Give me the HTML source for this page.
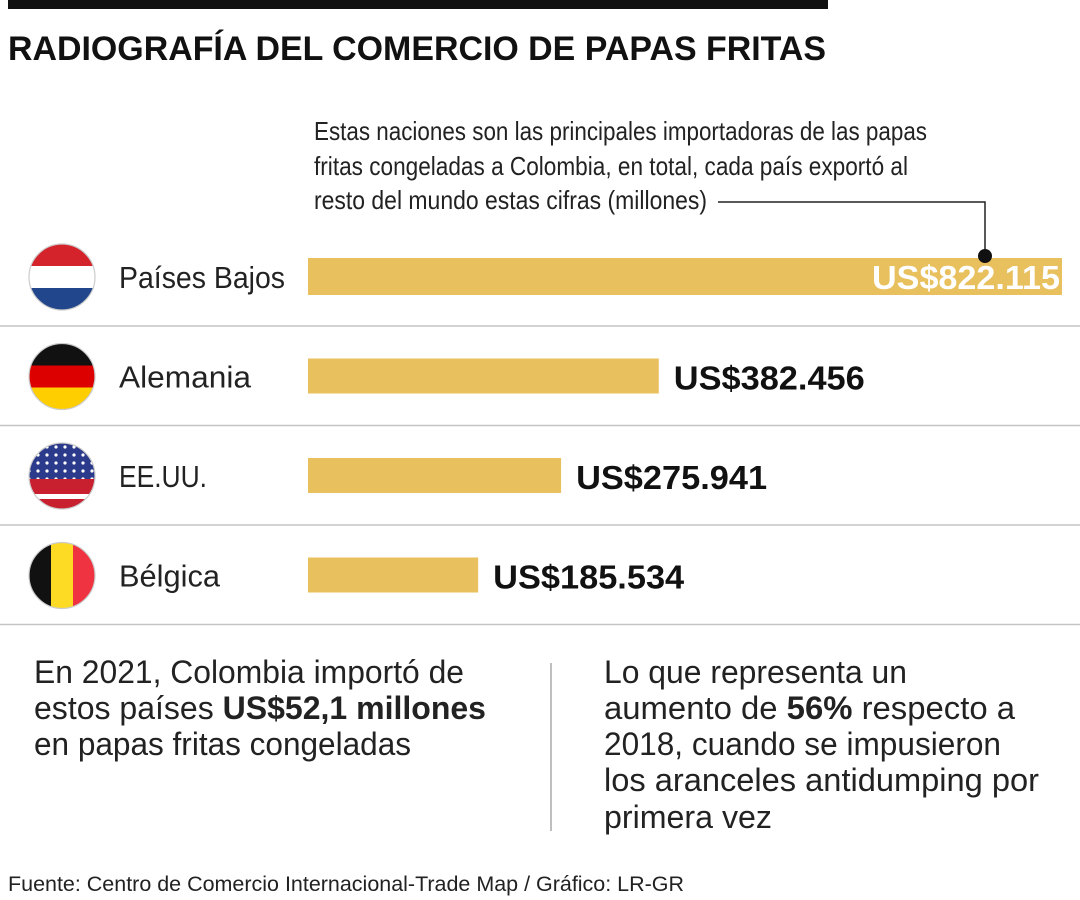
<!DOCTYPE html>
<html><head><meta charset="utf-8"><style>
body{margin:0;background:#fff}
svg{display:block}
text{font-family:"Liberation Sans","DejaVu Sans",sans-serif}
</style></head><body>
<svg id="c" width="1080" height="900" viewBox="0 0 1080 900">
<defs>
<clipPath id="cc"><circle cx="0" cy="0" r="33"/></clipPath>
<pattern id="stars" width="9" height="8" patternUnits="userSpaceOnUse"><circle cx="3" cy="3" r="1.6" fill="#fff"/></pattern>
</defs>
<rect x="8" y="0" width="820" height="9" fill="#111"/>
<text x="8" y="60" font-size="34" font-weight="bold" textLength="818" lengthAdjust="spacingAndGlyphs" fill="#111">RADIOGRAFÍA DEL COMERCIO DE PAPAS FRITAS</text>
<g font-size="26" fill="#222">
<text x="314" y="140" textLength="613" lengthAdjust="spacingAndGlyphs">Estas naciones son las principales importadoras de las papas</text>
<text x="314" y="175" textLength="594" lengthAdjust="spacingAndGlyphs">fritas congeladas a Colombia, en total, cada país exportó al</text>
<text x="314" y="209" textLength="393" lengthAdjust="spacingAndGlyphs">resto del mundo estas cifras (millones)</text>
</g>
<polyline points="718,202 985,202 985,255" fill="none" stroke="#222" stroke-width="1.5"/>
<g id="rows"></g>
<circle cx="985" cy="256" r="7" fill="#111"/>
<g font-size="32" fill="#222">
<text x="34" y="683" textLength="430" lengthAdjust="spacingAndGlyphs">En 2021, Colombia importó de</text>
<text x="34" y="719" textLength="452" lengthAdjust="spacingAndGlyphs">estos países <tspan font-weight="bold">US$52,1 millones</tspan></text>
<text x="34" y="755" textLength="377" lengthAdjust="spacingAndGlyphs">en papas fritas congeladas</text>
</g>
<line x1="551" y1="663" x2="551" y2="831" stroke="#aaa" stroke-width="1.5"/>
<g font-size="32" fill="#222">
<text x="604" y="683" textLength="303" lengthAdjust="spacingAndGlyphs">Lo que representa un</text>
<text x="604" y="719" textLength="411" lengthAdjust="spacingAndGlyphs">aumento de <tspan font-weight="bold">56%</tspan> respecto a</text>
<text x="604" y="755" textLength="397" lengthAdjust="spacingAndGlyphs">2018, cuando se impusieron</text>
<text x="604" y="791" textLength="435" lengthAdjust="spacingAndGlyphs">los aranceles antidumping por</text>
<text x="604" y="828" textLength="168" lengthAdjust="spacingAndGlyphs">primera vez</text>
</g>
<text x="8" y="891" font-size="21" fill="#222" textLength="676" lengthAdjust="spacingAndGlyphs">Fuente: Centro de Comercio Internacional-Trade Map / Gráfico: LR-GR</text>
</svg>
<script>
const countries=["Países Bajos","Alemania","EE.UU.","Bélgica"];
const values=[822.115,382.456,275.941,185.534];
const labels=["US$822.115","US$382.456","US$275.941","US$185.534"];
const flagKeys=["nl","de","us","be"];
const NS="http://www.w3.org/2000/svg";
const x0=308, scale=(1062-308)/822.115;
const nameWidths=[166,132,88,101];
function xScale(v){return x0+v*scale;}
function rowY(i){return 226+i*99.5;}
function mk(tag,attrs,parent){const e=document.createElementNS(NS,tag);for(const k in attrs)e.setAttribute(k,attrs[k]);parent.appendChild(e);return e;}
const rows=document.getElementById('rows');
const flagStripes={
 nl:[["h","#d5232b"],["h","#ffffff"],["h","#21468b"]],
 de:[["h","#111111"],["h","#dd0000"],["h","#ffce00"]],
 be:[["v","#111111"],["v","#fdda24"],["v","#ef3340"]]
};
countries.forEach((c,i)=>{
 const y=rowY(i);
 const g=mk('g',{},rows);
 
 
 const cy=y+51;
 const fg=mk('g',{transform:`translate(62,${cy})`},g);
 
 
 const inner=mk('g',{'clip-path':'url(#cc)'},fg);
 const k=flagKeys[i];
 if(k==='us'){
  for(let s=0;s<7;s++){mk('rect',{x:-33,y:-33+s*66/7,width:66,height:66/7+0.5,fill:s%2? '#fff':'#c8202f'},inner);}
  mk('rect',{x:-33,y:-33,width:66,height:36,fill:'#2b3a8a'},inner);
  mk('rect',{x:-33,y:-33,width:66,height:36,fill:'url(#stars)'},inner);
  for(let s=0;s<3;s++){mk('rect',{x:-33,y:3+s*10,width:66,height:5,fill:'#c8202f'},inner);}
 } else {
  flagStripes[k].forEach((st,j)=>{
   if(st[0]==='h')mk('rect',{x:-33,y:-33+j*22,width:66,height:22.5,fill:st[1]},inner);
   else mk('rect',{x:-33+j*22,y:-33,width:22.5,height:66,fill:st[1]},inner);
  });
 }
 mk('circle',{cx:0,cy:0,r:33,fill:'none',stroke:'#ccc','stroke-width':1.2},fg);
 const t=mk('text',{x:119,y:cy+11,'font-size':31,fill:'#222',textLength:nameWidths[i],lengthAdjust:'spacingAndGlyphs'},g);
 t.textContent=c;
 
 
 const bh=i===0?37:35;
 const bar=mk('rect',{x:x0,y:i===0?258:cy-18,width:xScale(values[i])-x0,height:bh,fill:'#e8c05e'},g);
 
 
 const vl=mk('text',{'font-size':33,'font-weight':'bold',lengthAdjust:'spacingAndGlyphs'},g);
 if(i===0){vl.setAttribute('x',xScale(values[i])-2);vl.setAttribute('text-anchor','end');vl.setAttribute('fill','#fff');vl.setAttribute('y',cy+12);vl.setAttribute('textLength',188);}
 else{vl.setAttribute('x',xScale(values[i])+15);vl.setAttribute('fill','#111');vl.setAttribute('y',cy+13);vl.setAttribute('textLength',191);}
 vl.textContent=labels[i];
 
 
 const ln=mk('line',{x1:0,x2:1080,y1:cy+49,y2:cy+49,stroke:'#c4c4c4','stroke-width':1.5},g);
 
 
});
</script>
</body></html>
